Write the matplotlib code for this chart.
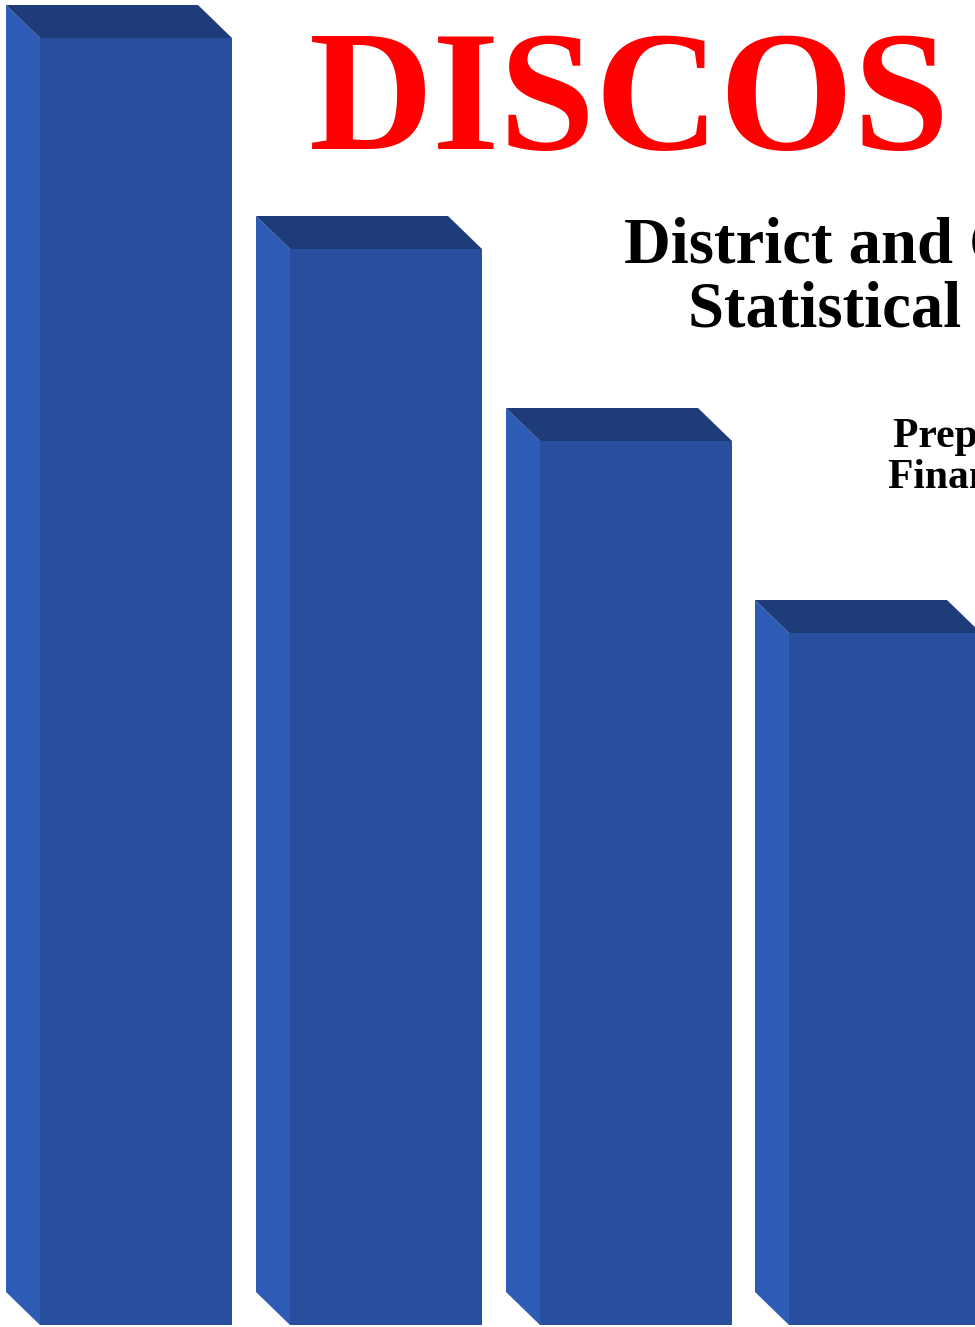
import matplotlib.pyplot as plt
from matplotlib.patches import Polygon

# bar data (front face heights, in page pixels above the ground line)
bar_left = [40, 290, 540, 789]
bar_heights = [1287, 1076, 884, 692]
bar_width = 192
depth = 34          # 3d offset of the back edge
base = 2

front_col = '#274F9E'
side_col = '#2D5BB5'
top_col = '#1F3C7A'

title = 'DISCOS'
subtitle = ['District and County', 'Statistical Report']
prepared = ['Prepared by the', 'Financial Services']

W, H = 975, 1327
fig = plt.figure(figsize=(W / 100, H / 100), dpi=100)
ax = fig.add_axes([0, 0, 1, 1])
ax.set_xlim(0, W)
ax.set_ylim(0, H)
ax.axis('off')

for x0, h in zip(bar_left, bar_heights):
    top = base + h
    # front face
    ax.bar(x0, h, width=bar_width, bottom=base, align='edge',
           color=front_col, linewidth=0, zorder=2)
    # left side face
    ax.add_patch(Polygon([(x0, base), (x0, top), (x0 - depth, top + depth - 1),
                          (x0 - depth, base + depth - 1)],
                         closed=True, facecolor=side_col, linewidth=0, zorder=2))
    # top face
    ax.add_patch(Polygon([(x0, top), (x0 + bar_width, top),
                          (x0 + bar_width - depth, top + depth - 1),
                          (x0 - depth, top + depth - 1)],
                         closed=True, facecolor=top_col, linewidth=0, zorder=2))

serif = ['Liberation Serif', 'DejaVu Serif']
ax.text(309, H - 149, title, color='#FF0000', fontsize=124, fontweight='bold',
        family=serif, ha='left', va='baseline', zorder=3)
ax.text(624, H - 263, subtitle[0], color='black', fontsize=46.5, fontweight='bold',
        family=serif, ha='left', va='baseline', zorder=3)
ax.text(688, H - 327, subtitle[1], color='black', fontsize=46.5, fontweight='bold',
        family=serif, ha='left', va='baseline', zorder=3)
ax.text(893, H - 447, prepared[0], color='black', fontsize=30, fontweight='bold',
        family=serif, ha='left', va='baseline', zorder=3)
ax.text(888, H - 488, prepared[1], color='black', fontsize=30, fontweight='bold',
        family=serif, ha='left', va='baseline', zorder=3)

fig.savefig('out.png', dpi=100)
